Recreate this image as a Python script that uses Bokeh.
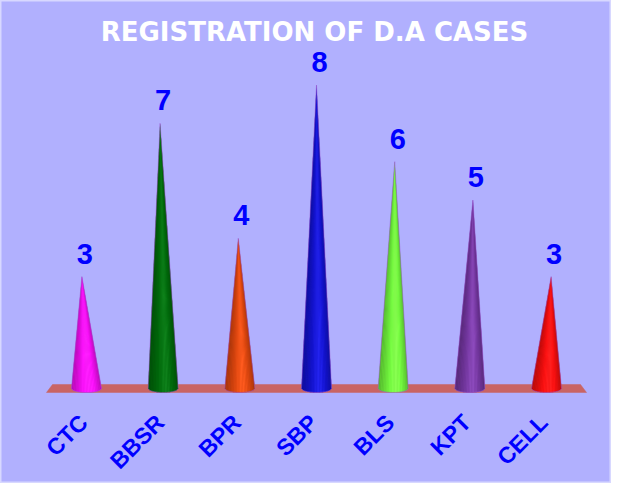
import numpy as np
from bokeh.plotting import figure
from bokeh.models import Label, Range1d
from bokeh.embed import file_html
from bokeh.resources import INLINE
from bokeh.core.properties import value

# ---- data ----
categories = ["CTC", "BBSR", "BPR", "SBP", "BLS", "KPT", "CELL"]
cases = [3, 7, 4, 8, 6, 5, 3]
cone_colors = ["#ff10ff", "#006e0c", "#e84a10", "#1414d8", "#76ff40", "#7a3aa8", "#ff1010"]
title_text = "REGISTRATION OF D.A CASES"

# ---- layout constants ----
W, H = 611, 483
BG = "#b1b0fe"
n = len(categories)

p = figure(width=W, height=H,
           x_range=Range1d(-1.1217, 6.8475), y_range=Range1d(-2.402, 10.209),
           output_backend="svg", toolbar_location=None, min_border=0,
           x_axis_location=None, y_axis_location=None,
           background_fill_color=BG, border_fill_color=BG,
           outline_line_color="#d8d8ff", outline_line_width=2)
p.xgrid.visible = False
p.ygrid.visible = False

# ---- floor ----
ft, fb = 0.183, -0.026
p.patch(x=[-0.443, n - 1 + 0.443, n - 1 + 0.522, -0.522],
        y=[ft, ft, fb, fb], fill_color="#c96464", line_color="#c96464",
        line_width=0.5)

# ---- cones ----
yb, rx, ry = 0.078, 0.196, 0.104
N = 20


def hex2rgb(h):
    h = h.lstrip("#")
    return np.array([int(h[i:i + 2], 16) for i in (0, 2, 4)], dtype=float)


def rgb2hex(c):
    c = np.clip(c, 0, 255).astype(int)
    return "#%02x%02x%02x" % tuple(c)


def arc_y(x, cx):
    u = np.clip((x - cx) / rx, -1, 1)
    return yb - ry * np.sqrt(1 - u * u)


xs_all, ys_all, fills = [], [], []
out_xs, out_ys, under = [], [], []
tip_xs = []
for i, (v, col) in enumerate(zip(cases, cone_colors)):
    cx = float(i)
    tx = cx + 0.02 * (i - (n - 1) / 2)
    tip_xs.append(tx)
    rgb = hex2rgb(col)
    under.append(rgb2hex(rgb * 0.9))
    for k in range(N):
        t0, t1 = k / N, (k + 1) / N
        tm = (t0 + t1) / 2
        s = np.sin(np.pi * tm ** 1.3)
        f = 0.72 + 0.32 * s
        c = rgb * f + 15 * s ** 6
        x0 = cx - rx + 2 * rx * t0
        x1 = cx - rx + 2 * rx * t1
        xs_all.append([tx, x0, x1])
        ys_all.append([v, float(arc_y(x0, cx)), float(arc_y(x1, cx))])
        fills.append(rgb2hex(c))
    ax = np.linspace(cx - rx, cx + rx, 21)
    out_xs.append([tx] + list(ax) + [tx])
    out_ys.append([v] + [float(arc_y(a, cx)) for a in ax] + [v])

p.patches(xs=out_xs, ys=out_ys, fill_color=under, line_color=None)
p.patches(xs=xs_all, ys=ys_all, fill_color=fills, line_color=None)
p.patches(xs=out_xs, ys=out_ys, fill_alpha=0, line_color="#9a5ad0",
          line_alpha=0.55, line_width=1)

# ---- value labels ----
p.text(x=tip_xs, y=cases, text=[str(c) for c in cases],
       text_font=value("Liberation Sans"), text_font_style="bold",
       text_font_size="29px", text_color="#0000ff", text_align="center",
       text_baseline="alphabetic", x_offset=3, y_offset=-23)

# ---- category labels ----
p.text(x=list(range(n)), y=[0] * n, text=categories, angle=np.pi / 4,
       text_font=value("Liberation Sans"), text_font_style="bold",
       text_font_size="23px", text_color="#0000ff", text_align="right",
       text_baseline="middle", x_offset=-3, y_offset=27)

# ---- title ----
p.add_layout(Label(x=314, y=452, x_units="screen", y_units="screen",
                   text=title_text, text_align="center",
                   text_baseline="alphabetic", text_font="DejaVu Sans",
                   text_font_style="bold", text_font_size="26px",
                   text_color="white"))

open("out.html", "w").write(file_html(p, INLINE))
